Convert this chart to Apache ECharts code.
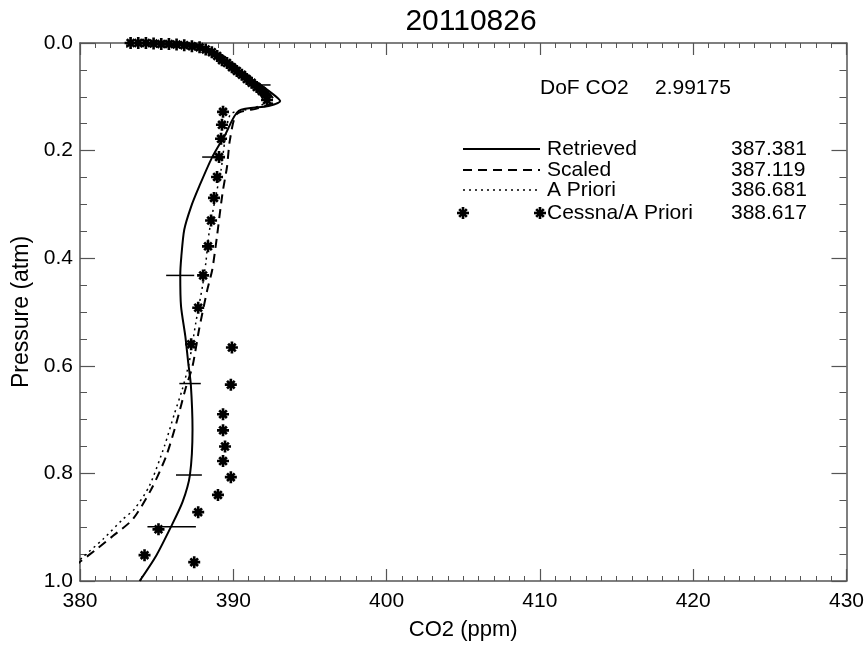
<!DOCTYPE html>
<html>
<head>
<meta charset="utf-8">
<script src="https://cdn.jsdelivr.net/npm/echarts@6/dist/echarts.min.js"></script>
<style>html,body{margin:0;padding:0;background:#fff;}#chart{width:867px;height:646px;}</style>
</head>
<body>
<div id="chart"></div>
<script>
// ---------- data ----------
const titleText = '20110826';
const xTickLabels = ['380', '390', '400', '410', '420', '430'];
const yTickLabels = ['0.0', '0.2', '0.4', '0.6', '0.8', '1.0'];

const retrievedCO2 = [383.02, 384.53, 386.91, 388.10, 389.07, 390.04, 391.00, 391.79, 392.50, 393.06, 392.31, 390.36, 389.46, 388.61, 387.77, 387.25, 386.80, 386.61, 386.54, 386.59, 386.87, 387.06, 387.23, 387.34, 387.17, 386.69, 385.94, 384.97, 383.89];
const retrievedP   = [0.000, 0.001, 0.003, 0.009, 0.028, 0.046, 0.064, 0.078, 0.093, 0.108, 0.117, 0.126, 0.171, 0.213, 0.267, 0.304, 0.347, 0.397, 0.432, 0.489, 0.545, 0.594, 0.635, 0.718, 0.803, 0.853, 0.899, 0.953, 1.000];

const scaledCO2 = [383.37, 384.86, 387.25, 388.42, 389.33, 390.30, 391.27, 392.18, 392.69, 391.66, 390.23, 389.78, 389.59, 389.33, 389.17, 388.95, 388.63, 388.31, 387.77, 387.34, 386.91, 386.26, 385.62, 384.64, 383.45, 382.16, 381.08, 380.11, 379.03, 378.38];
const scaledP   = [0.000, 0.001, 0.004, 0.011, 0.024, 0.045, 0.067, 0.089, 0.108, 0.121, 0.132, 0.180, 0.230, 0.273, 0.306, 0.356, 0.421, 0.458, 0.532, 0.601, 0.640, 0.709, 0.768, 0.830, 0.885, 0.916, 0.941, 0.962, 0.987, 1.000];

const aprioriCO2 = [383.04, 384.53, 386.87, 388.10, 388.94, 389.91, 390.88, 391.85, 392.31, 391.33, 389.84, 389.46, 389.20, 388.81, 388.42, 388.21, 387.99, 387.56, 387.12, 386.67, 386.15, 385.51, 384.53, 383.56, 382.80, 381.51, 380.21, 379.35, 378.70];
const aprioriP   = [0.000, 0.001, 0.004, 0.011, 0.024, 0.045, 0.067, 0.089, 0.106, 0.121, 0.132, 0.180, 0.236, 0.291, 0.353, 0.408, 0.452, 0.519, 0.594, 0.644, 0.690, 0.749, 0.823, 0.866, 0.885, 0.922, 0.955, 0.978, 1.000];

const cessnaCO2 = [383.3, 383.8, 384.3, 384.8, 385.3, 385.8, 386.3, 386.8, 387.3, 387.8, 388.2, 388.6, 388.95, 389.26, 389.59, 389.91, 390.23, 390.56, 390.88, 391.2, 391.53, 391.85, 392.1, 392.2,
                   389.33, 389.26, 389.20, 389.07, 388.94, 388.74, 388.55, 388.35, 388.03, 387.71, 387.25, 389.91, 389.84, 389.33, 389.33, 389.46, 389.33, 389.84, 389.00, 387.71, 385.12, 384.21, 387.45];
const cessnaP   = [0.000, 0.000, 0.000, 0.001, 0.002, 0.002, 0.003, 0.004, 0.006, 0.008, 0.012, 0.017, 0.024, 0.032, 0.037, 0.045, 0.052, 0.059, 0.067, 0.074, 0.082, 0.089, 0.096, 0.106,
                   0.128, 0.152, 0.178, 0.212, 0.249, 0.288, 0.330, 0.378, 0.432, 0.492, 0.560, 0.566, 0.635, 0.690, 0.720, 0.750, 0.777, 0.807, 0.840, 0.872, 0.904, 0.952, 0.965];

const errP    = [0.078, 0.212, 0.432, 0.633, 0.803, 0.899];
const errLow  = [391.20, 387.97, 385.62, 386.48, 386.26, 384.40];
const errHigh = [392.43, 389.07, 387.45, 387.88, 387.95, 387.56];

const dofLabel = 'DoF CO2';
const dofValue = '2.99175';
const legendNames  = ['Retrieved', 'Scaled', 'A Priori', 'Cessna/A Priori'];
const legendValues = ['387.381', '387.119', '386.681', '388.617'];

// ---------- chart ----------
const FONT = "'Liberation Sans', Arial, Helvetica, sans-serif";
const STAR_POLYS = [
  [[0, 39], [100, 39], [100, 61], [0, 61]],
  [[39, 0], [61, 0], [61, 100], [39, 100]],
  [[26, 10.4], [89.6, 74], [74, 89.6], [10.4, 26]],
  [[10.4, 74], [74, 10.4], [89.6, 26], [26, 89.6]]
];
const STAR = 'path://' + STAR_POLYS.map(poly => 'M' + poly.map(p => p[0] + ' ' + p[1]).join('L') + 'Z').join(' ');
function starGraphic(cx, cy, size) {
  const s = size / 100;
  return {
    type: 'group',
    children: STAR_POLYS.map(poly => ({
      type: 'polygon',
      shape: { points: poly.map(p => [cx - size / 2 + p[0] * s, cy - size / 2 + p[1] * s]) },
      style: { fill: '#000' }
    }))
  };
}

const zip = (a, b) => a.map((v, i) => [v, b[i]]);
const errData = errP.map((p, i) => [errLow[i], p, errHigh[i]]);

const axisColor = '#555';
const chart = echarts.init(document.getElementById('chart'));

const legendRowY = [149, 170, 190, 213];
const legendDash = [null, [9, 6], [2, 4]];
const legendWidth = [2, 2, 1.5];
function txt(x, y, s) {
  return { type: 'text', x: x, y: y, style: { text: s, font: '21px ' + FONT, fill: '#000', verticalAlign: 'middle', align: 'left' } };
}
const graphics = [txt(540, 88, dofLabel), txt(655, 88, dofValue)];
legendNames.forEach((name, i) => {
  const y = legendRowY[i];
  if (i < 3) {
    graphics.push({
      type: 'line', shape: { x1: 463, y1: y, x2: 540, y2: y },
      style: { stroke: '#000', lineWidth: legendWidth[i], lineDash: legendDash[i] }
    });
  } else {
    graphics.push(starGraphic(463, y, 12));
    graphics.push(starGraphic(540, y, 12));
  }
  graphics.push(txt(547, y, name));
  graphics.push(txt(731, y, legendValues[i]));
});

const xBase = {
  type: 'value', min: 380, max: 430, interval: 10,
  axisLine: { show: true, onZero: false, lineStyle: { color: axisColor, width: 1.5 } },
  axisTick: { show: true, inside: true, length: 12, lineStyle: { color: axisColor, width: 1.2 } },
  minorTick: { show: true, splitNumber: 10, length: 5, lineStyle: { color: axisColor, width: 1 } },
  splitLine: { show: false }
};
const yBase = {
  type: 'value', min: 0, max: 1, interval: 0.2, inverse: true,
  axisLine: { show: true, onZero: false, lineStyle: { color: axisColor, width: 1.5 } },
  axisTick: { show: true, inside: true, length: 15, lineStyle: { color: axisColor, width: 1.2 } },
  minorTick: { show: true, splitNumber: 4, length: 7, lineStyle: { color: axisColor, width: 1 } },
  splitLine: { show: false }
};

chart.setOption({
  backgroundColor: '#fff',
  animation: false,
  title: {
    text: titleText, left: 466, top: 2, textAlign: 'center',
    textStyle: { fontFamily: FONT, fontSize: 30, fontWeight: 'normal', color: '#000' }
  },
  grid: { left: 80, right: 15, top: 43, bottom: 64, containLabel: false },
  xAxis: [
    Object.assign({}, xBase, {
      position: 'bottom', name: 'CO2 (ppm)', nameLocation: 'middle', nameGap: 38,
      nameTextStyle: { fontFamily: FONT, fontSize: 22, color: '#000' },
      axisLabel: { show: true, margin: 10, fontFamily: FONT, fontSize: 21, color: '#000',
        formatter: v => xTickLabels[Math.round((v - 380) / 10)] }
    }),
    Object.assign({}, xBase, { position: 'top', axisLabel: { show: false } })
  ],
  yAxis: [
    Object.assign({}, yBase, {
      position: 'left', name: 'Pressure (atm)', nameLocation: 'middle', nameGap: 45, nameRotate: 90,
      nameTextStyle: { fontFamily: FONT, fontSize: 23, color: '#000' },
      axisLabel: { show: true, margin: 7, fontFamily: FONT, fontSize: 21, color: '#000',
        formatter: v => yTickLabels[Math.round(v / 0.2)] }
    }),
    Object.assign({}, yBase, { position: 'right', axisLabel: { show: false } })
  ],
  series: [
    { name: 'A Priori', type: 'line', data: zip(aprioriCO2, aprioriP), symbol: 'none', smooth: 0.25, clip: true,
      lineStyle: { color: '#000', width: 1.5, type: [2, 4] }, z: 2 },
    { name: 'Scaled', type: 'line', data: zip(scaledCO2, scaledP), symbol: 'none', smooth: 0.25, clip: true,
      lineStyle: { color: '#000', width: 2, type: [9, 6] }, z: 2 },
    { name: 'Retrieved', type: 'line', data: zip(retrievedCO2, retrievedP), symbol: 'none', smooth: 0.25, clip: true,
      lineStyle: { color: '#000', width: 2, type: 'solid' }, z: 3 },
    { name: 'Cessna/A Priori', type: 'scatter', data: zip(cessnaCO2, cessnaP), symbol: STAR, symbolSize: 12,
      itemStyle: { color: '#000', opacity: 1 }, z: 4 },
    { name: 'Error', type: 'custom', data: errData, encode: { x: [0, 2], y: 1 }, z: 3,
      renderItem: (params, api) => {
        const a = api.coord([api.value(0), api.value(1)]);
        const b = api.coord([api.value(2), api.value(1)]);
        return { type: 'line', shape: { x1: a[0], y1: a[1], x2: b[0], y2: b[1] }, style: { stroke: '#000', lineWidth: 1.5 } };
      } }
  ],
  graphic: graphics
});
</script>
</body>
</html>
